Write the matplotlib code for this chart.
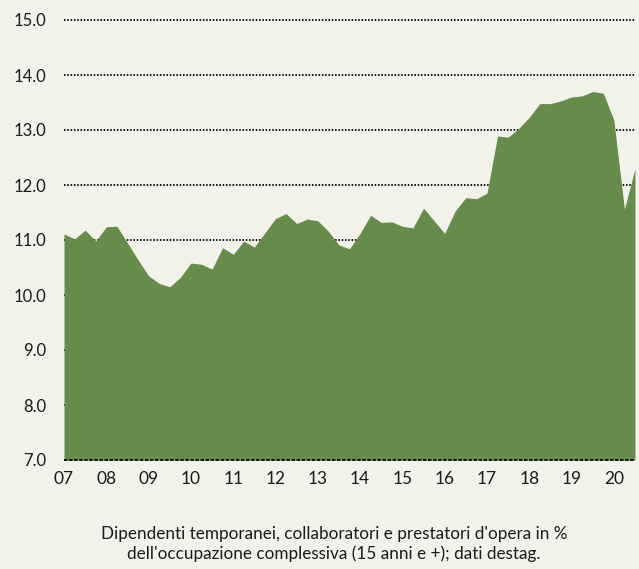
import matplotlib
matplotlib.use("Agg")
import matplotlib.pyplot as plt
import numpy as np

# Quarterly share (%), 2007 Q1 - 2020 Q3
values = [
    11.11, 11.02, 11.18, 10.98, 11.24, 11.25, 10.95, 10.64,   # 2007-2008
    10.35, 10.21, 10.15, 10.32, 10.58, 10.56, 10.47, 10.86,   # 2009-2010
    10.74, 10.98, 10.87, 11.13, 11.39, 11.48, 11.30, 11.38,   # 2011-2012
    11.35, 11.16, 10.91, 10.84, 11.12, 11.45, 11.32, 11.33,   # 2013-2014
    11.25, 11.22, 11.58, 11.35, 11.12, 11.53, 11.77, 11.75,   # 2015-2016
    11.85, 12.89, 12.87, 13.03, 13.23, 13.48, 13.48, 13.53,   # 2017-2018
    13.60, 13.62, 13.70, 13.67, 13.18, 11.56, 12.30,          # 2019-2020
]
year_labels = ["07", "08", "09", "10", "11", "12", "13",
               "14", "15", "16", "17", "18", "19", "20"]
y_ticks = [7.0, 8.0, 9.0, 10.0, 11.0, 12.0, 13.0, 14.0, 15.0]
caption = ("Dipendenti temporanei, collaboratori e prestatori d'opera in %\n"
           "dell'occupazione complessiva (15 anni e +); dati destag.")

bg = "#F3F2EA"
fill_color = "#678B4B"
font = "Lato"

fig = plt.figure(figsize=(6.39, 5.69), dpi=100, facecolor=bg)
ax = fig.add_axes([64 / 639, 1 - 460 / 569, (635 - 64) / 639, 440 / 569])
ax.set_facecolor(bg)

x = np.arange(len(values))
ax.fill_between(x, 7.0, values, color=fill_color, linewidth=0, zorder=2)

ax.set_xlim(0, len(values) - 1)
ax.set_ylim(7.0, 15.0)

# dotted horizontal gridlines, behind the area
for yv in y_ticks[1:]:
    ax.axhline(yv, color="#111111", linewidth=1.4, linestyle=(0, (0.8, 0.9)),
               zorder=1, clip_on=False)
# dashed baseline on top
ax.axhline(7.0, color="#111111", linewidth=1.4, linestyle=(0, (1.8, 0.8)),
           zorder=3, clip_on=False)

for s in ax.spines.values():
    s.set_visible(False)

ax.set_yticks(y_ticks)
ax.set_yticklabels([f"{v:.1f}" for v in y_ticks], fontsize=12,
                   family=font, color="#1a1a1a")
ax.set_xticks(np.arange(0, len(values), 4))
ax.set_xticklabels(year_labels, fontsize=12.5, family=font, color="#1a1a1a")
ax.tick_params(axis="y", length=0, pad=13)
ax.tick_params(axis="x", length=0, pad=8)

fig.text(334 / 639, 1 - 544 / 569, caption, ha="center", va="center",
         fontsize=12.3, family=font, color="#1a1a1a", linespacing=1.25)

fig.savefig("out.png", dpi=100, facecolor=bg)
